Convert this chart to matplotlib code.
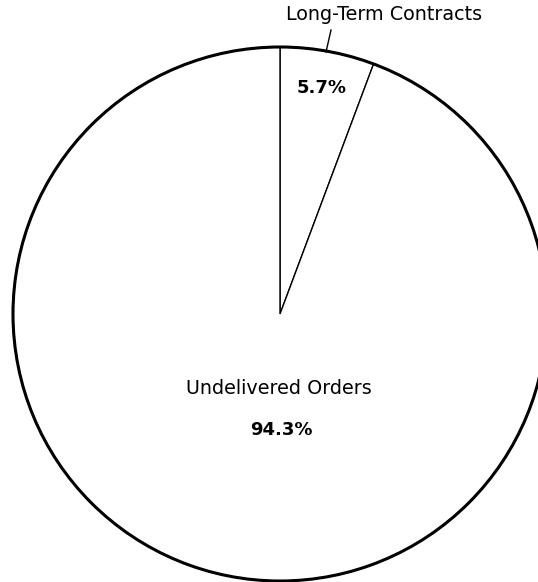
import matplotlib.pyplot as plt

# order backlog split
labels = ["Long-Term Contracts", "Undelivered Orders"]
shares = [5.7, 94.3]

W, H = 538, 582
fig = plt.figure(figsize=(W / 100, H / 100), dpi=100)
ax = fig.add_axes([0, 0, 1, 1])

cx, cy, r = 280, H - 314, 267

# thin wedge edges first, then a heavier outer rim on top
ax.pie(shares, startangle=90, counterclock=False, center=(cx, cy), radius=r,
       colors=["white", "white"], frame=True,
       wedgeprops=dict(edgecolor="black", linewidth=1.0))
ax.set_xlim(0, W)
ax.set_ylim(0, H)
ax.set_aspect("equal")
ax.axis("off")
rim = plt.Circle((cx, cy), r, fill=False, edgecolor="black", linewidth=2.2)
ax.add_patch(rim)

font = "DejaVu Sans"
ax.text(384, H - 15, labels[0], ha="center", va="center", fontsize=13.8, family=font)
ax.plot([331, 326], [H - 30, H - 52], color="black", linewidth=1.0)
ax.text(322, H - 88, f"{shares[0]}%", ha="center", va="center", fontsize=13,
        fontweight="bold", family=font)

ax.text(279, H - 388, labels[1], ha="center", va="center", fontsize=13.8, family=font)
ax.text(281, H - 430, f"{shares[1]}%", ha="center", va="center", fontsize=13,
        fontweight="bold", family=font)

fig.savefig("out.png", dpi=100)
